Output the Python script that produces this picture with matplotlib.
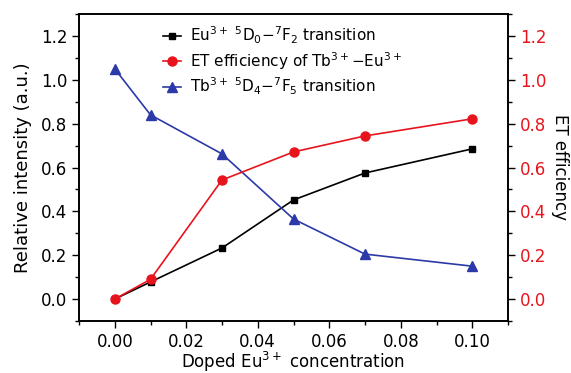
import numpy as np
import matplotlib.pyplot as plt
from matplotlib.ticker import MultipleLocator, FormatStrFormatter

conc = [0.00, 0.01, 0.03, 0.05, 0.07, 0.10]
eu_intensity = [0.0, 0.078, 0.233, 0.452, 0.575, 0.685]
et_efficiency = [0.0, 0.09, 0.543, 0.671, 0.744, 0.822]
tb_intensity = [1.05, 0.84, 0.662, 0.365, 0.205, 0.15]

plt.rcParams['font.family'] = 'DejaVu Sans'
plt.rcParams['font.size'] = 12

fig = plt.figure(figsize=(5.71, 3.73), dpi=100)
ax = fig.add_axes([79/571, 1 - 321/373, (508-79)/571, (321-14)/373])
ax2 = ax.twinx()

l1, = ax.plot(conc, eu_intensity, color='k', marker='s', ms=5, lw=1.2,
              label=r'Eu$^{3+}$ $^5$D$_0$$-$$^7$F$_2$ transition')
l2, = ax2.plot(conc, et_efficiency, color='#e8141c', marker='o', ms=6.5, lw=1.2,
               label=r'ET efficiency of Tb$^{3+}$$-$Eu$^{3+}$')
l3, = ax.plot(conc, tb_intensity, color='#2b3aa8', marker='^', ms=6.5, lw=1.2,
              label=r'Tb$^{3+}$ $^5$D$_4$$-$$^7$F$_5$ transition')

for a in (ax, ax2):
    a.set_ylim(-0.1, 1.3)
    a.yaxis.set_major_locator(MultipleLocator(0.2))
    a.yaxis.set_minor_locator(MultipleLocator(0.1))
    a.yaxis.set_major_formatter(FormatStrFormatter('%.1f'))
ax.set_xlim(-0.01, 0.11)
ax.xaxis.set_major_locator(MultipleLocator(0.02))
ax.xaxis.set_minor_locator(MultipleLocator(0.01))
ax.xaxis.set_major_formatter(FormatStrFormatter('%.2f'))

ax.tick_params(which='both', direction='out', top=False, labelsize=12)
ax.tick_params(which='major', length=5, width=1)
ax.tick_params(which='minor', length=3, width=1)
ax2.tick_params(which='both', labelsize=12)
ax2.tick_params(which='major', length=5, width=1, labelcolor='#e8141c')
ax2.tick_params(which='minor', length=3, width=1)
for a in (ax, ax2):
    for s in a.spines.values():
        s.set_linewidth(1.2)

ax.set_xlabel(r'Doped Eu$^{3+}$ concentration', fontsize=12, labelpad=-1)
ax.set_ylabel('Relative intensity (a.u.)', fontsize=13, labelpad=6)
ax2.set_ylabel('ET efficiency', fontsize=12, rotation=270, labelpad=16)

ax.legend(handles=[l1, l2, l3], loc='upper left', bbox_to_anchor=(0.17, 1.0),
          frameon=False, fontsize=11, handlelength=1.2, handletextpad=0.6,
          labelspacing=0.25, borderaxespad=0.3)

fig.savefig('out.png', dpi=100)
